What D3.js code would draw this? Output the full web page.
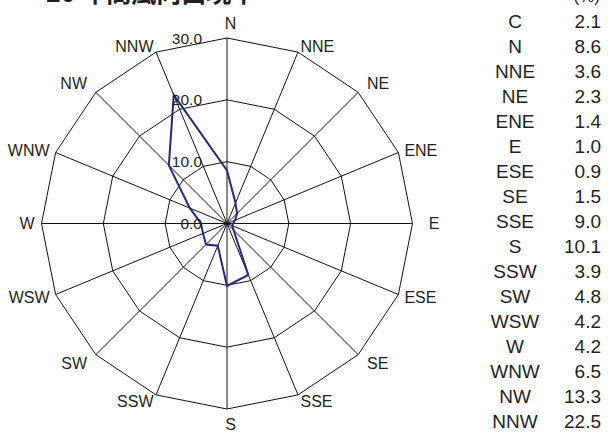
<!DOCTYPE html>
<html><head><meta charset="utf-8">
<script src="https://cdn.jsdelivr.net/npm/d3@7"></script>
<style>
html,body{margin:0;padding:0;background:#fff;}
svg{display:block;font-family:"Liberation Sans",Arial,sans-serif;}
</style></head>
<body>
<svg id="c" width="608" height="432"></svg>
<script>
const titleText = "20 年間風向出現率";
const unitText = "(%)";
const directions = ["N","NNE","NE","ENE","E","ESE","SE","SSE","S","SSW","SW","WSW","W","WNW","NW","NNW"];
const frequencies = [8.6,3.6,2.3,1.4,1.0,0.9,1.5,9.0,10.1,3.9,4.8,4.2,4.2,6.5,13.3,22.5];
const calmLabel = "C";
const calmValue = 2.1;
const ringTicks = [0,10,20,30];

const svg = d3.select("#c");
const cx = 227, cy = 223.5;
const r = d3.scaleLinear().domain([0,30]).range([0,185.5]);
const ang = d3.scaleLinear().domain([0,directions.length]).range([0,2*Math.PI]);
const g = svg.append("g").attr("transform",`translate(${cx},${cy})`);
const textColor = "#231f20";

// rings
const ringLine = d3.lineRadial().angle((d,i)=>ang(i)).radius(d=>r(d)).curve(d3.curveLinearClosed);
ringTicks.filter(t=>t>0).forEach(t=>{
  g.append("path").attr("d", ringLine(directions.map(()=>t)))
   .attr("fill","none").attr("stroke","#111").attr("stroke-width",1);
});
// spokes
directions.forEach((d,i)=>{
  const a = ang(i);
  g.append("line").attr("x1",0).attr("y1",0)
   .attr("x2", r(30)*Math.sin(a)).attr("y2", -r(30)*Math.cos(a))
   .attr("stroke","#111").attr("stroke-width",1);
});
// data
g.append("path").attr("d", ringLine(frequencies))
 .attr("fill","none").attr("stroke","#27287a").attr("stroke-width",2).attr("stroke-linejoin","miter");

// ring labels
ringTicks.forEach(t=>{
  g.append("text").attr("x",-25).attr("y",-r(t)).attr("dy","0.36em")
   .attr("text-anchor","end").attr("font-size",15.5).attr("fill",textColor)
   .text(d3.format(".1f")(t));
});

// direction labels
directions.forEach((d,i)=>{
  const a = ang(i);
  const s = Math.sin(a), c = Math.cos(a);
  let x, y, anchor;
  if (i % 4 === 0) {
    x = 203.5*s + 3.5; y = -200.5*c; anchor = "middle";
  } else {
    const rr = (i % 2 === 0) ? 198 : 192;
    x = rr*s; y = -rr*c; anchor = s > 0 ? "start" : "end";
  }
  g.append("text").attr("x",x).attr("y",y).attr("dy","0.36em")
   .attr("text-anchor",anchor).attr("font-size",16).attr("fill",textColor).text(d);
});

// title (cut off at top)
svg.append("text").attr("x",46).attr("y",2).attr("font-size",25).attr("font-weight","bold")
 .attr("font-family","'Noto Sans CJK JP',sans-serif").attr("fill",textColor).text(titleText);

// table
const rowY = d3.scaleLinear().domain([0,1]).range([21,46.05]);
const names = [calmLabel].concat(directions);
const vals = [calmValue].concat(frequencies);
svg.append("text").attr("x",600).attr("y",rowY(-1)).attr("dy","0.36em").attr("text-anchor","end")
 .attr("font-size",17).attr("fill",textColor).text(unitText);
names.forEach((n,i)=>{
  svg.append("text").attr("x",515).attr("y",rowY(i)).attr("dy","0.35em").attr("text-anchor","middle")
   .attr("font-size",19).attr("fill",textColor).text(n);
  svg.append("text").attr("x",601).attr("y",rowY(i)).attr("dy","0.35em").attr("text-anchor","end")
   .attr("font-size",19).attr("fill",textColor).text(d3.format(".1f")(vals[i]));
});
</script>
</body></html>
